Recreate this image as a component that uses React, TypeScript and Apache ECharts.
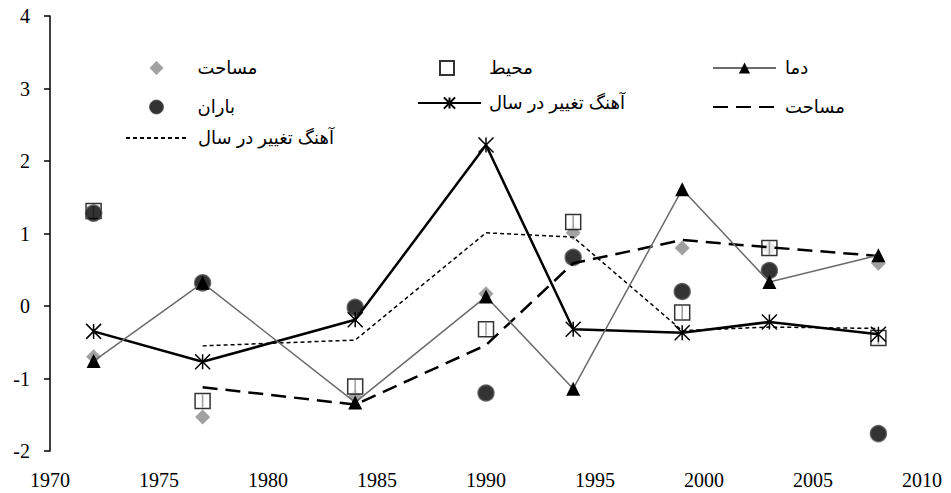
import React, { useEffect, useRef } from "react";
import * as echarts from "echarts";

// ---- data ----
const years = [1972, 1977, 1984, 1990, 1994, 1999, 2003, 2008];
const trendYears = [1977, 1984, 1990, 1994, 1999, 2003, 2008];

const damaValues = [-0.76, 0.32, -1.33, 0.13, -1.14, 1.61, 0.33, 0.7]; // دما
const masahatValues = [-0.7, -1.53, -1.25, 0.17, 1.01, 0.8, 0.8, 0.59]; // مساحت
const mohitValues = [1.31, -1.31, -1.11, -0.32, 1.16, -0.09, 0.8, -0.44]; // محیط
const baranValues = [1.28, 0.32, -0.02, -1.2, 0.67, 0.2, 0.49, -1.76]; // باران
const ahangValues = [-0.35, -0.77, -0.19, 2.22, -0.32, -0.37, -0.22, -0.39]; // آهنگ تغییر در سال
const masahatTrend = [-1.12, -1.36, -0.54, 0.59, 0.91, 0.81, 0.69]; // مساحت (dashed)
const ahangTrend = [-0.55, -0.47, 1.01, 0.95, -0.34, -0.29, -0.31]; // آهنگ تغییر در سال (dotted)

const xTicks = { min: 1970, max: 2010, interval: 5 };
const yTicks = { min: -2, max: 4, interval: 1 };

const N_DAMA = "دما";
const N_MASAHAT = "مساحت";
const N_MOHIT = "محیط";
const N_BARAN = "باران";
const N_AHANG = "آهنگ تغییر در سال";
const N_MASAHAT_T = "مساحت ";
const N_AHANG_T = "آهنگ تغییر در سال ";

const pair = (xs: number[], ys: number[]) => xs.map((x, i) => [x, ys[i]]);

const ASTERISK = "path://M0,0L10,10M10,0L0,10M5,0L5,10";
const ARABIC_FONT = "'Liberation Sans', 'DejaVu Sans', Arial, sans-serif";
const SERIF_FONT = "'Liberation Serif', 'Times New Roman', serif";

export default function App() {
  const ref = useRef<HTMLDivElement>(null);

  useEffect(() => {
    if (!ref.current) return;
    const chart = echarts.init(ref.current, undefined, { renderer: "svg" });

    const ROW0 = 54;
    const ROWSTEP = 35;
    const legendBase = (left: number, top: number, wide: boolean, pad: number) => ({
      orient: "vertical",
      left,
      top,
      itemWidth: wide ? 63 : 14,
      itemHeight: 14,
      itemGap: ROWSTEP - 14,
      selectedMode: false,
      formatter: (n: string) => n.trim(),
      textStyle: {
        fontFamily: ARABIC_FONT,
        fontSize: 18,
        color: "#000",
        padding: [0, 0, 0, pad],
      },
    });
    const hideSym = { opacity: 0 };

    chart.setOption({
      animation: false,
      backgroundColor: "#fff",
      grid: { left: 50, right: 29, top: 16, bottom: 42, containLabel: false, outerBoundsMode: "none" },
      legend: [
        {
          ...legendBase(144, ROW0, false, 29),
          data: [
            { name: N_MASAHAT, icon: "diamond" },
            { name: N_BARAN, icon: "circle", itemStyle: { color: "#000", borderColor: "#555", borderWidth: 1 } },
          ],
        },
        {
          ...legendBase(120, ROW0 + 2 * ROWSTEP, true, 4),
          data: [{ name: N_AHANG_T, itemStyle: hideSym }],
        },
        {
          ...legendBase(434, ROW0, false, 30),
          data: [{ name: N_MOHIT, icon: "rect" }],
        },
        {
          ...legendBase(412, ROW0 + ROWSTEP, true, 3),
          data: [{ name: N_AHANG }],
        },
        {
          ...legendBase(707, ROW0, true, 4),
          data: [{ name: N_DAMA }, { name: N_MASAHAT_T, itemStyle: hideSym }],
        },
      ],
      xAxis: {
        type: "value",
        min: xTicks.min,
        max: xTicks.max,
        interval: xTicks.interval,
        axisLine: { show: false },
        axisTick: { show: false },
        splitLine: { show: false },
        axisLabel: {
          formatter: (v: number) => String(v),
          fontFamily: SERIF_FONT,
          fontSize: 20,
          color: "#000",
          margin: 19,
        },
      },
      yAxis: {
        type: "value",
        min: yTicks.min,
        max: yTicks.max,
        interval: yTicks.interval,
        axisLine: { show: true, lineStyle: { color: "#000", width: 1.5 } },
        axisTick: { show: true, length: 6, lineStyle: { color: "#000", width: 1.5 } },
        splitLine: { show: false },
        axisLabel: {
          fontFamily: SERIF_FONT,
          fontSize: 20,
          color: "#000",
          margin: 20,
        },
      },
      series: [
        {
          name: N_AHANG_T,
          type: "line",
          data: pair(trendYears, ahangTrend),
          symbol: "none",
          lineStyle: { color: "#000", width: 1.5, type: [4, 3] },
          itemStyle: { color: "#000" },
        },
        {
          name: N_MASAHAT_T,
          type: "line",
          data: pair(trendYears, masahatTrend),
          symbol: "none",
          lineStyle: { color: "#000", width: 2.5, type: [15, 8] },
          itemStyle: { color: "#000" },
        },
        {
          name: N_AHANG,
          type: "line",
          data: pair(years, ahangValues),
          symbol: ASTERISK,
          symbolSize: 15,
          showAllSymbol: true,
          lineStyle: { color: "#000", width: 2.5 },
          itemStyle: { color: "#000", borderColor: "#000", borderWidth: 1.5 },
        },
        {
          name: N_DAMA,
          type: "line",
          data: pair(years, damaValues),
          symbol: "triangle",
          symbolSize: 14,
          showAllSymbol: true,
          lineStyle: { color: "#6b6b6b", width: 1.5 },
          itemStyle: { color: "#000" },
        },
        {
          name: N_MASAHAT,
          type: "scatter",
          data: pair(years, masahatValues),
          symbol: "diamond",
          symbolSize: 15,
          itemStyle: { color: "#8a8a8a" },
        },
        {
          name: N_MOHIT,
          type: "scatter",
          data: pair(years, mohitValues),
          symbol: "rect",
          symbolSize: 15,
          itemStyle: { color: "#fff", borderColor: "#000", borderWidth: 1.5 },
        },
        {
          name: "stripe",
          type: "scatter",
          data: pair(years, mohitValues),
          symbol: "rect",
          symbolSize: [1.6, 13],
          itemStyle: { color: "#8a8a8a" },
          silent: true,
        },
        {
          name: N_BARAN,
          type: "scatter",
          data: pair(years, baranValues),
          symbol: "circle",
          symbolSize: 16,
          itemStyle: { color: "#000", borderColor: "#555", borderWidth: 1.5 },
        },
      ],
    });

    return () => chart.dispose();
  }, []);

  return (
    <div
      ref={ref}
      style={{ position: "absolute", left: 0, top: 0, width: 951, height: 493 }}
    />
  );
}
